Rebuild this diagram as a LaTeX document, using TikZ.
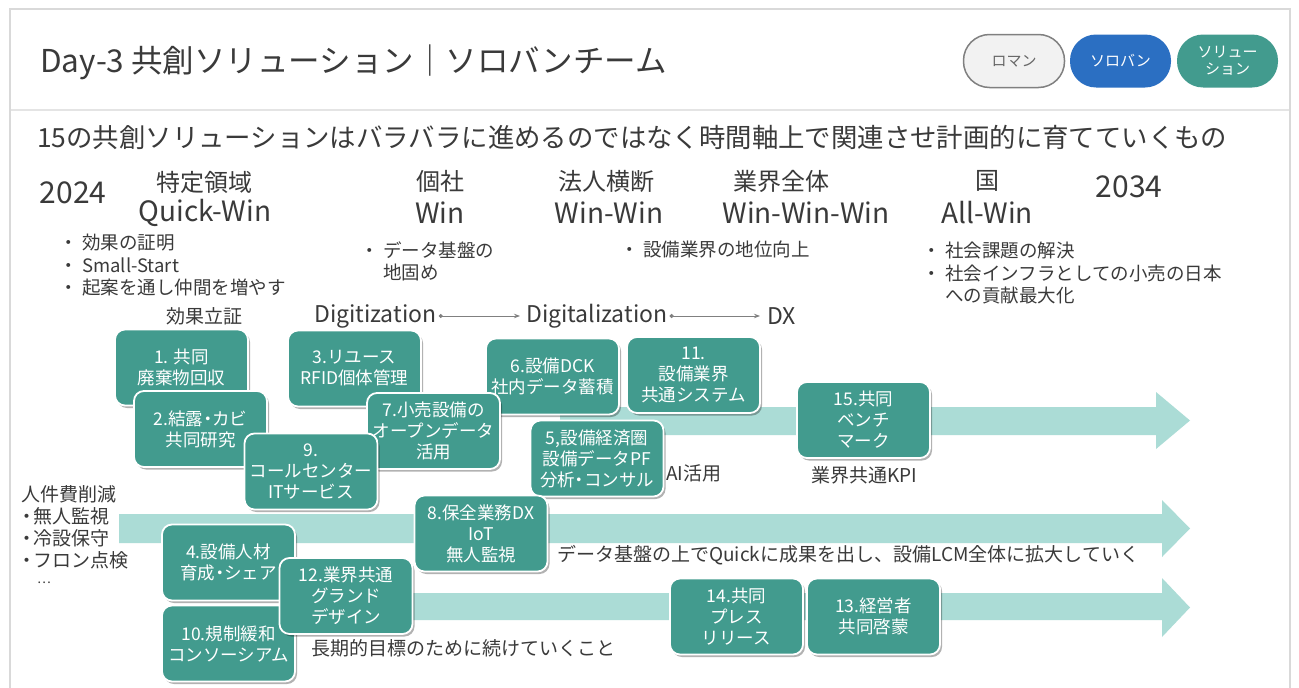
\documentclass[tikz,border=0pt]{standalone}
\usepackage{fontspec}
\setmainfont{Noto Sans CJK JP}
\usetikzlibrary{shadows,arrows.meta}
\definecolor{tealbox}{HTML}{429B8E}
\definecolor{band}{HTML}{ABDCD6}
\definecolor{txt}{HTML}{3A3A3A}
\definecolor{btnblue}{HTML}{2B6FC2}
\definecolor{btngray}{HTML}{F2F2F2}
\definecolor{btnedge}{HTML}{808080}
\definecolor{framec}{HTML}{D9D9D9}
\newcommand{\bul}{\makebox[23pt][l]{・}}
\newcommand{\ndot}{\makebox[12pt][c]{・}}
\newcommand{\bdot}{\makebox[9pt][c]{・}}
\begin{document}
\begin{tikzpicture}[x=1pt,y=-1pt,
  box/.style={draw=white, line width=1.8pt, fill=tealbox, rounded corners=10pt,
    minimum width=133pt, minimum height=76pt, text=white, align=center,
    font=\fontsize{17.5}{21}\selectfont, inner sep=0pt,
    drop shadow={shadow xshift=2pt, shadow yshift=-2.5pt, opacity=0.3, fill=black}},
  btn/.style={rounded corners=26pt, minimum width=101pt, minimum height=53pt,
    align=center, font=\fontsize{15}{17}\selectfont, inner sep=0pt},
  head/.style={text=txt, font=\fontsize{24}{28}\selectfont, inner sep=0pt},
  headl/.style={text=txt, font=\fontsize{28}{30}\selectfont, inner sep=0pt},
  year/.style={text=txt, font=\fontsize{30}{32}\selectfont, inner sep=0pt},
  bullet/.style={text=txt, font=\fontsize{18.5}{22}\selectfont, inner sep=0pt, anchor=west},
  lbl/.style={text=txt, font=\fontsize{19}{22}\selectfont, inner sep=0pt},
  lbll/.style={text=txt, font=\fontsize{23}{26}\selectfont, inner sep=0pt},
  bandfill/.style={fill=band},
  flow/.style={draw=btnedge, line width=0.9pt, {Circle[length=4pt]}-{Stealth[length=6pt]}}
]
\useasboundingbox (0,0) rectangle (1299,688);
\fill[white] (0,0) rectangle (1299,688);
\draw[framec, line width=1.5pt] (10,9) rectangle (1290,720);
\draw[framec!70, line width=2pt] (11,110) -- (1289,110);

% title and buttons
\node[text=txt, font=\fontsize{31.5}{34}\selectfont, anchor=west, inner sep=0pt] (title) at (40,62) {Day-3 共創ソリューション｜ソロバンチーム};
\node[btn, fill=btngray, draw=btnedge, line width=1.5pt, text=btnedge!80!black] (b1) at (1014,61) {ロマン};
\node[btn, fill=btnblue, text=white] (b2) at (1120.5,61) {ソロバン};
\node[btn, fill=tealbox, text=white] (b3) at (1227.5,61) {ソリュー\\ション};

% subtitle
\node[text=txt, font=\fontsize{26.4}{30}\selectfont, anchor=west, inner sep=0pt] (sub) at (37,137) {15の共創ソリューションはバラバラに進めるのではなく時間軸上で関連させ計画的に育てていくもの};

% header
\node[year] (y1) at (73,193) {2024};
\node[head] (s1a) at (204,182) {特定領域};
\node[headl] (s1b) at (205,213) {Quick-Win};
\node[head] (s2a) at (440,181) {個社};
\node[headl] (s2b) at (440,213) {Win};
\node[head] (s3a) at (606,181) {法人横断};
\node[headl] (s3b) at (609,213) {Win-Win};
\node[head] (s4a) at (781,181) {業界全体};
\node[headl] (s4b) at (806,213) {Win-Win-Win};
\node[head] (s5a) at (987,181) {国};
\node[headl] (s5b) at (987,213) {All-Win};
\node[year] (y2) at (1129,187) {2034};

% bullets
\node[bullet] (p1) at (59,243) {\bul 効果の証明};
\node[bullet] (p2) at (59,265) {\bul Small-Start};
\node[bullet] (p3) at (59,288) {\bul 起案を通し仲間を増やす};
\node[bullet] (p4) at (360,250) {\bul データ基盤の};
\node[bullet] (p5) at (383,272) {地固め};
\node[bullet] (p6) at (620,250) {\bul 設備業界の地位向上};
\node[bullet] (p7) at (922,250) {\bul 社会課題の解決};
\node[bullet] (p8) at (922,273) {\bul 社会インフラとしての小売の日本};
\node[bullet] (p9) at (945,295) {への貢献最大化};

% stage row
\node[lbl] (kk) at (204,316) {効果立証};
\node[lbll, anchor=west] (dg1) at (314,316) {Digitization};
\node[lbll, anchor=west] (dg2) at (526,316) {Digitalization};
\node[lbll, anchor=west] (dx) at (767,316) {DX};
\draw[flow] ([xshift=2pt]dg1.east) -- ([xshift=-6pt]dg2.west);
\draw[flow] ([xshift=2pt]dg2.east) -- ([xshift=-7pt]dx.west);

% bands
\fill[bandfill] (560,407) -- (1156,407) -- (1156,392) -- (1190,420.5) -- (1156,449) -- (1156,435) -- (560,435) -- cycle;
\fill[bandfill] (119,514) -- (1162,514) -- (1162,500) -- (1190,528.5) -- (1162,557) -- (1162,543) -- (119,543) -- cycle;
\fill[bandfill] (380,593) -- (1162,593) -- (1162,578) -- (1190,607.5) -- (1162,637) -- (1162,620) -- (380,620) -- cycle;

% left labels
\node[lbl, anchor=west] (l0) at (21,494) {人件費削減};
\node[lbl, anchor=west] (l1) at (21,516) {\ndot 無人監視};
\node[lbl, anchor=west] (l2) at (21,538) {\ndot 冷設保守};
\node[lbl, anchor=west] (l3) at (21,560) {\ndot フロン点検};
\node[text=txt, font=\fontsize{13}{14}\selectfont, inner sep=0pt] (l4) at (44,583) {…};

% other labels
\node[lbl, anchor=west] (ai) at (666,473) {AI活用};
\node[lbl] (kpi) at (864,475) {業界共通KPI};
\node[lbl, anchor=west] (lcm) at (557,555) {データ基盤の上でQuickに成果を出し、設備LCM全体に拡大していく};
\node[lbl, anchor=west] (long) at (311,648) {長期的目標のために続けていくこと};

% boxes
\node[box] (n1) at (181.5,367.5) {1. 共同\\廃棄物回収};
\node[box] (n2) at (200.5,429) {2.結露\bdot カビ\\共同研究};
\node[box] (n3) at (354.5,368.5) {3.リユース\\RFID個体管理};
\node[box] (n6) at (552.5,376.5) {6.設備DCK\\社内データ蓄積};
\node[box] (n11) at (693.5,375) {11.\\設備業界\\共通システム};
\node[box] (n7) at (433.5,431) {7.小売設備の\\オープンデータ\\活用};
\node[box] (n9) at (311,471.5) {9.\\コールセンター\\ITサービス};
\node[box] (n5) at (597,458.5) {5,設備経済圏\\設備データPF\\分析\bdot コンサル};
\node[box] (n15) at (863.5,420) {15.共同\\ベンチ\\マーク};
\node[box] (n8) at (481,533.5) {8.保全業務DX\\IoT\\無人監視};
\node[box] (n4) at (228.5,562.5) {4.設備人材\\育成\bdot シェア};
\node[box] (n10) at (228.5,643.5) {10.規制緩和\\コンソーシアム};
\node[box] (n12) at (346,596) {12.業界共通\\グランド\\デザイン};
\node[box] (n14) at (736.5,616.5) {14.共同\\プレス\\リリース};
\node[box] (n13) at (873.5,616.5) {13.経営者\\共同啓蒙};
\end{tikzpicture}
\end{document}
